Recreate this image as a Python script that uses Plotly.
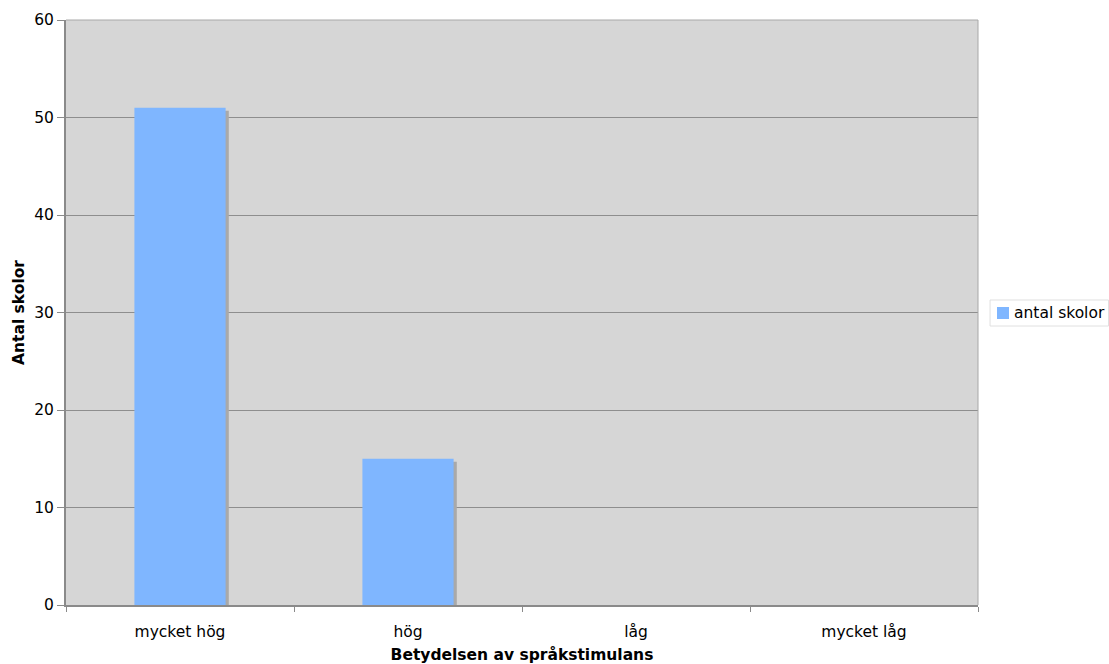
import plotly.graph_objects as go

categories = ["mycket hög", "hög", "låg", "mycket låg"]
antal_skolor = [51, 15, 0, 0]

series_name = "antal skolor"
y_title = "Antal skolor"
x_title = "Betydelsen av språkstimulans"

font_family = "DejaVu Sans, Verdana, sans-serif"
bar_color = "#7fb6ff"

fig = go.Figure()

# drop shadow behind each bar: same values, nudged right and down
fig.add_trace(go.Bar(
    x=categories,
    y=[v - 0.3 if v > 0 else 0 for v in antal_skolor],
    marker=dict(color="#a9a9a9", line=dict(width=0)),
    width=0.4,
    offset=-0.2 + 0.014,
    showlegend=False,
    hoverinfo="skip",
))

fig.add_trace(go.Bar(
    x=categories,
    y=antal_skolor,
    name=series_name,
    marker=dict(color=bar_color, line=dict(width=0)),
    width=0.4,
    offset=-0.2,
    showlegend=False,
))

fig.update_layout(
    width=1109,
    height=664,
    margin=dict(l=66, r=131, t=20, b=59),
    paper_bgcolor="white",
    plot_bgcolor="#d6d6d6",
    barmode="overlay",
    font=dict(family=font_family, size=15, color="black"),
    xaxis=dict(
        type="category",
        automargin=False,
        tickson="boundaries",
        ticks="outside", ticklen=5, tickcolor="#8a8a8a",
        showline=True, linecolor="#8a8a8a", linewidth=2,
        showgrid=False,
        tickfont=dict(size=15.5),
        ticklabelstandoff=11,
        title=dict(text="<b>" + x_title + "</b>", font=dict(size=15.5), standoff=12),
    ),
    yaxis=dict(
        range=[0, 60],
        dtick=10,
        automargin=False,
        ticks="outside", ticklen=7, tickcolor="#8a8a8a",
        showline=True, linecolor="#8a8a8a", linewidth=2,
        showgrid=True, gridcolor="#8e8e8e", gridwidth=1,
        zeroline=False,
        tickfont=dict(size=15.5),
        title=dict(text="<b>" + y_title + "</b>", font=dict(size=15.5), standoff=6),
    ),
)

# light frame on the top and right sides of the plotting area
fig.add_shape(type="line", xref="paper", yref="paper", x0=0, x1=1, y0=1, y1=1,
              line=dict(color="#a8a8a8", width=1))
fig.add_shape(type="line", xref="paper", yref="paper", x0=1, x1=1, y0=0, y1=1,
              line=dict(color="#a8a8a8", width=1))

# compact legend box to the right of the plot
fig.add_shape(type="rect", xref="paper", yref="paper",
              x0=1.0132, x1=1.1431, y0=0.4769, y1=0.5214,
              line=dict(color="#e0e0e0", width=1), fillcolor="white")
fig.add_shape(type="rect", xref="paper", yref="paper",
              x0=1.0208, x1=1.0340, y0=0.4889, y1=0.5094,
              line=dict(width=0), fillcolor=bar_color)
fig.add_annotation(xref="paper", yref="paper", x=1.0373, y=0.4991,
                   xanchor="left", yanchor="middle", showarrow=False,
                   text=series_name, font=dict(size=15.5))

fig.write_html("out.html")
